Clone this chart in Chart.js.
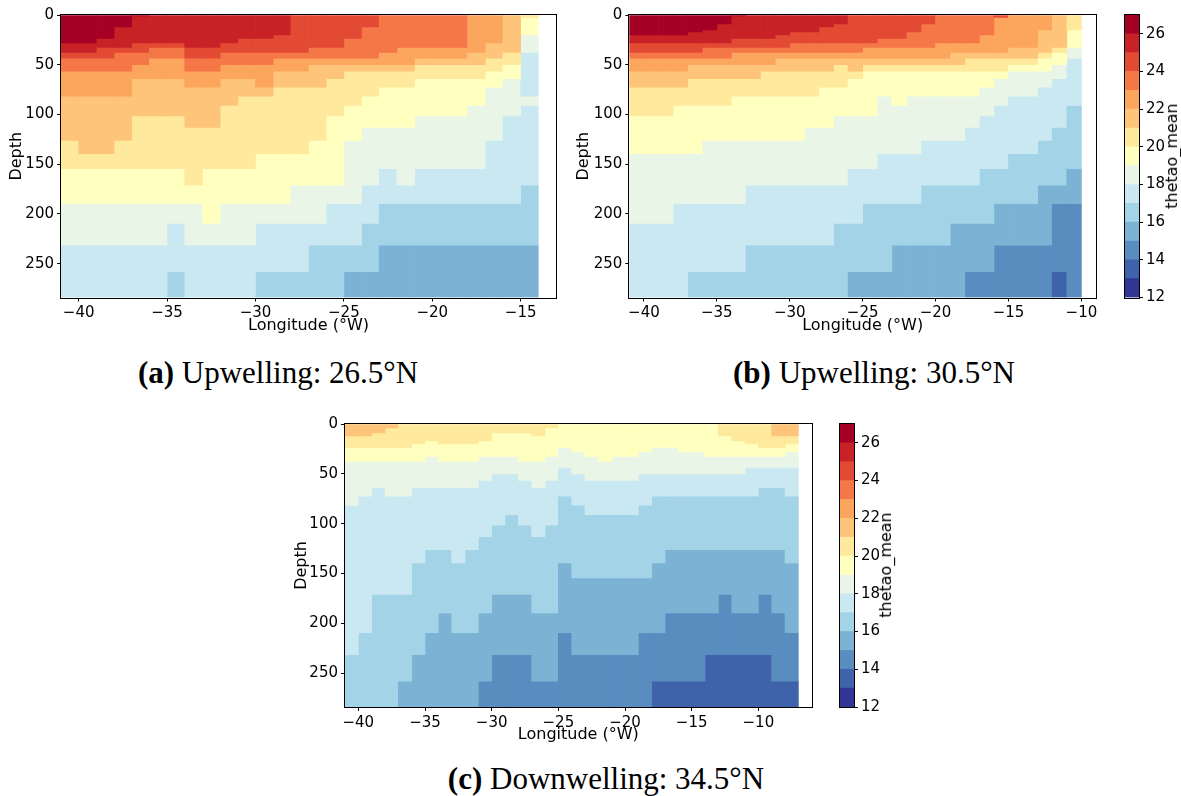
<!DOCTYPE html>
<html>
<head>
<meta charset="utf-8">
<script src="https://cdn.jsdelivr.net/npm/chart.js@4.4.0/dist/chart.umd.min.js"></script>
<style>
  body { margin: 0; background: #fff; width: 1181px; height: 796px; position: relative; overflow: hidden; }
  canvas { position: absolute; }
  .cap { position: absolute; font-family: 'Liberation Serif', serif; font-size: 31px; line-height: 31px; white-space: nowrap; transform: translateX(-50%); color: #000; }
  .cbt { position: absolute; font-family: 'DejaVu Sans', sans-serif; font-size: 16px; line-height: 16px; white-space: nowrap; transform: translate(-50%, -50%) rotate(-90deg); color: #000; }
</style>
</head>
<body>
<canvas id="ca" width="570" height="345" style="left:0;top:0"></canvas>
<canvas id="cb" width="540" height="345" style="left:570px;top:0"></canvas>
<canvas id="cbarB" width="61" height="312" style="left:1120px;top:0"></canvas>
<canvas id="cc" width="540" height="346" style="left:285px;top:409px"></canvas>
<canvas id="cbarC" width="55" height="313" style="left:835px;top:409px"></canvas>

<div class="cbt" style="left:1172px;top:156px">thetao_mean</div>
<div class="cbt" style="left:886px;top:565px">thetao_mean</div>

<div class="cap" style="left:278px;top:357px"><b>(a)</b> Upwelling: 26.5°N</div>
<div class="cap" style="left:874px;top:357px"><b>(b)</b> Upwelling: 30.5°N</div>
<div class="cap" style="left:606px;top:763px"><b>(c)</b> Downwelling: 34.5°N</div>

<script>
// temperature bands (degC), one colour per 1-degree band
const bandLevels = [12, 13, 14, 15, 16, 17, 18, 19, 20, 21, 22, 23, 24, 25, 26, 27];
const bandColors = ['#313695', '#3f63ab', '#598dc0', '#7cb3d4', '#a3d3e6', '#c9e8f2', '#e9f6e7',
                    '#ffffbf', '#fee99d', '#fec479', '#fca55d', '#f57647', '#e34a33', '#c82227', '#a50026'];
const cbarTicks = [12, 14, 16, 18, 20, 22, 24, 26];
const depthTicks = [0, 50, 100, 150, 200, 250];
const depthMax = 284;

// each column: list of [band, bottom depth in m], top of first run is 0
// (a) 26.5N, columns start at -41, 1 degree wide
const lonStartA = -41;
const lonRangeA = [-41, -13];
const lonTicksA = [-40, -35, -30, -25, -20, -15];
const profilesA = [
  [[26,28],[25,37.5],[24,43.5],[23,56.5],[22,81.5],[21,126],[20,154.5],[19,189.5],[18,231.5],[17,284]],
  [[26,28],[25,37.5],[24,43.5],[23,56.5],[22,81.5],[21,139.5],[20,154.5],[19,189.5],[18,231.5],[17,284]],
  [[26,23.5],[25,32.5],[24,43.5],[23,56.5],[22,81.5],[21,139.5],[20,154.5],[19,189.5],[18,231.5],[17,284]],
  [[26,12],[25,32.5],[24,37.5],[23,56.5],[22,81.5],[21,126],[20,154.5],[19,189.5],[18,231.5],[17,284]],
  [[26,1],[25,28],[24,37.5],[23,50],[22,64],[21,101.5],[20,154.5],[19,189.5],[18,231.5],[17,284]],
  [[25,28],[24,32.5],[23,43.5],[22,64],[21,101.5],[20,154.5],[19,189.5],[18,231.5],[17,284]],
  [[25,28],[24,32.5],[23,43.5],[22,64],[21,101.5],[20,154.5],[19,189.5],[18,209.5],[17,258],[16,284]],
  [[25,32.5],[24,43.5],[23,56.5],[22,72.5],[21,113],[20,171],[19,189.5],[18,231.5],[17,284]],
  [[25,32.5],[24,43.5],[23,56.5],[22,72.5],[21,113],[20,154.5],[19,209.5],[18,231.5],[17,284]],
  [[25,28],[24,37.5],[23,50],[22,64],[21,91],[20,154.5],[19,189.5],[18,231.5],[17,284]],
  [[25,23.5],[24,37.5],[23,50],[22,64],[21,81.5],[20,154.5],[19,189.5],[18,231.5],[17,284]],
  [[25,23.5],[24,37.5],[23,50],[22,72.5],[21,81.5],[20,139.5],[19,189.5],[18,209.5],[17,258],[16,284]],
  [[25,20],[24,37.5],[23,43.5],[22,56.5],[21,72.5],[20,139.5],[19,189.5],[18,209.5],[17,258],[16,284]],
  [[24,37.5],[23,43.5],[22,56.5],[21,72.5],[20,139.5],[19,171],[18,209.5],[17,258],[16,284]],
  [[24,32.5],[23,43.5],[22,50],[21,72.5],[20,126],[19,171],[18,209.5],[17,231.5],[16,284]],
  [[24,32.5],[23,43.5],[22,50],[21,64],[20,101.5],[19,171],[18,189.5],[17,231.5],[16,284]],
  [[24,23.5],[23,43.5],[22,50],[21,56.5],[20,91],[19,126],[18,189.5],[17,231.5],[16,258],[15,284]],
  [[24,12],[23,43.5],[22,50],[21,56.5],[20,81.5],[19,113],[18,171],[17,209.5],[16,258],[15,284]],
  [[23,37.5],[22,50],[21,56.5],[20,72.5],[19,113],[18,154.5],[17,189.5],[16,231.5],[15,284]],
  [[23,32.5],[22,50],[21,56.5],[20,72.5],[19,113],[18,171],[17,189.5],[16,231.5],[15,284]],
  [[23,32.5],[22,43.5],[21,50],[20,64],[19,101.5],[18,154.5],[17,189.5],[16,231.5],[15,284]],
  [[23,32.5],[22,43.5],[21,50],[20,64],[19,101.5],[18,154.5],[17,189.5],[16,231.5],[15,284]],
  [[23,32.5],[22,43.5],[21,50],[20,64],[19,101.5],[18,154.5],[17,189.5],[16,231.5],[15,284]],
  [[22,37.5],[21,50],[20,64],[19,91],[18,154.5],[17,189.5],[16,231.5],[15,284]],
  [[22,28],[21,43.5],[20,56.5],[19,72.5],[18,126],[17,189.5],[16,231.5],[15,284]],
  [[21,37.5],[20,50],[19,64],[18,101.5],[17,189.5],[16,231.5],[15,284]],
  [[20,2.5],[19,20],[18,37.5],[17,81.5],[18,91],[17,171],[16,231.5],[15,284]]
];

// (b) 30.5N
const lonStartB = -41;
const lonRangeB = [-41, -9];
const lonTicksB = [-40, -35, -30, -25, -20, -15, -10];
const profilesB = [
  [[26,20],[25,28],[24,37.5],[23,43.5],[22,56.5],[21,72.5],[20,101.5],[19,139.5],[18,209.5],[17,284]],
  [[26,20],[25,28],[24,37.5],[23,43.5],[22,56.5],[21,72.5],[20,101.5],[19,139.5],[18,209.5],[17,284]],
  [[26,20],[25,28],[24,37.5],[23,43.5],[22,56.5],[21,72.5],[20,101.5],[19,139.5],[18,209.5],[17,284]],
  [[26,20],[25,28],[24,37.5],[23,43.5],[22,56.5],[21,72.5],[20,91],[19,139.5],[18,189.5],[17,284]],
  [[26,17],[25,28],[24,37.5],[23,43.5],[22,50],[21,64],[20,91],[19,139.5],[18,189.5],[17,258],[16,284]],
  [[26,15],[25,28],[24,32.5],[23,43.5],[22,50],[21,64],[20,91],[19,126],[18,189.5],[17,258],[16,284]],
  [[26,9],[25,28],[24,32.5],[23,43.5],[22,50],[21,64],[20,91],[19,126],[18,189.5],[17,258],[16,284]],
  [[26,1],[25,23.5],[24,32.5],[23,37.5],[22,50],[21,64],[20,81.5],[19,126],[18,189.5],[17,258],[16,284]],
  [[25,23.5],[24,32.5],[23,37.5],[22,50],[21,64],[20,81.5],[19,126],[18,171],[17,231.5],[16,284]],
  [[25,23.5],[24,32.5],[23,37.5],[22,50],[21,56.5],[20,81.5],[19,126],[18,171],[17,231.5],[16,284]],
  [[25,20],[24,32.5],[23,37.5],[22,43.5],[21,56.5],[20,81.5],[19,126],[18,171],[17,231.5],[16,284]],
  [[25,17],[24,28],[23,37.5],[22,43.5],[21,56.5],[20,81.5],[19,126],[18,171],[17,231.5],[16,284]],
  [[25,17],[24,28],[23,37.5],[22,43.5],[21,56.5],[20,81.5],[19,113],[18,171],[17,231.5],[16,284]],
  [[25,12],[24,28],[23,37.5],[22,43.5],[21,56.5],[20,72.5],[19,113],[18,171],[17,231.5],[16,284]],
  [[25,9],[24,28],[23,37.5],[22,43.5],[21,50],[20,72.5],[19,101.5],[18,171],[17,209.5],[16,284]],
  [[24,28],[23,37.5],[22,43.5],[21,56.5],[20,64],[19,101.5],[18,154.5],[17,209.5],[16,258],[15,284]],
  [[24,28],[23,32.5],[22,43.5],[21,50],[20,56.5],[19,101.5],[18,154.5],[17,189.5],[16,258],[15,284]],
  [[24,23.5],[23,32.5],[22,43.5],[21,50],[20,56.5],[19,81.5],[18,139.5],[17,189.5],[16,258],[15,284]],
  [[24,23.5],[23,32.5],[22,43.5],[21,50],[20,56.5],[19,91],[18,139.5],[17,189.5],[16,231.5],[15,284]],
  [[24,17],[23,32.5],[22,43.5],[21,50],[20,56.5],[19,81.5],[18,139.5],[17,189.5],[16,231.5],[15,284]],
  [[24,9],[23,32.5],[22,43.5],[21,50],[20,56.5],[19,81.5],[18,126],[17,171],[16,231.5],[15,284]],
  [[23,28],[22,43.5],[21,50],[20,56.5],[19,81.5],[18,126],[17,171],[16,231.5],[15,284]],
  [[23,28],[22,37.5],[21,50],[20,56.5],[19,81.5],[18,126],[17,171],[16,209.5],[15,284]],
  [[23,28],[22,37.5],[21,43.5],[20,56.5],[19,81.5],[18,113],[17,171],[16,209.5],[15,258],[14,284]],
  [[23,20],[22,37.5],[21,43.5],[20,56.5],[19,72.5],[18,101.5],[17,154.5],[16,209.5],[15,258],[14,284]],
  [[24,2.5],[22,37.5],[21,43.5],[20,56.5],[19,64],[18,91],[17,154.5],[16,189.5],[15,231.5],[14,284]],
  [[22,32.5],[21,43.5],[20,50],[19,56.5],[18,81.5],[17,139.5],[16,189.5],[15,231.5],[14,284]],
  [[22,32.5],[21,43.5],[20,50],[19,56.5],[18,81.5],[17,139.5],[16,189.5],[15,231.5],[14,284]],
  [[22,15],[21,37.5],[20,43.5],[19,56.5],[18,72.5],[17,126],[16,171],[15,231.5],[14,284]],
  [[21,32.5],[20,37.5],[19,50],[18,64],[17,113],[16,171],[15,189.5],[14,258],[13,284]],
  [[20,15],[19,32.5],[18,43.5],[17,91],[16,154.5],[15,189.5],[14,284]]
];

// (c) 34.5N
const lonStartC = -41;
const lonRangeC = [-41, -6];
const lonTicksC = [-40, -35, -30, -25, -20, -15, -10];
const profilesC = [
  [[21,12],[20,23.5],[19,37.5],[18,81.5],[17,231.5],[16,284]],
  [[21,12],[20,23.5],[19,37.5],[18,72.5],[17,209.5],[16,284]],
  [[21,9],[20,23.5],[19,37.5],[18,64],[17,171],[16,284]],
  [[21,4],[20,23.5],[19,37.5],[18,72.5],[17,171],[16,284]],
  [[20,23.5],[19,37.5],[18,72.5],[17,171],[16,258],[15,284]],
  [[20,20],[19,37.5],[18,64],[17,139.5],[16,231.5],[15,284]],
  [[20,17],[19,32.5],[18,64],[17,126],[16,209.5],[15,284]],
  [[20,20],[19,37.5],[18,64],[17,126],[16,189.5],[15,284]],
  [[20,20],[19,37.5],[18,64],[17,139.5],[16,209.5],[15,284]],
  [[20,20],[19,37.5],[18,64],[17,126],[16,209.5],[15,284]],
  [[20,17],[19,32.5],[18,56.5],[17,113],[16,189.5],[15,258],[14,284]],
  [[20,9],[19,32.5],[18,50],[17,101.5],[16,171],[15,231.5],[14,284]],
  [[20,9],[19,32.5],[18,50],[17,91],[16,171],[15,231.5],[14,284]],
  [[20,9],[19,37.5],[18,56.5],[17,101.5],[16,171],[15,231.5],[14,284]],
  [[20,12],[19,37.5],[18,64],[17,113],[16,189.5],[15,258],[14,284]],
  [[20,4],[19,32.5],[18,56.5],[17,101.5],[16,189.5],[15,258],[14,284]],
  [[19,23.5],[18,43.5],[17,72.5],[16,139.5],[15,209.5],[14,284]],
  [[19,28],[18,50],[17,81.5],[16,154.5],[15,231.5],[14,284]],
  [[19,32.5],[18,56.5],[17,91],[16,154.5],[15,231.5],[14,284]],
  [[19,37.5],[18,56.5],[17,91],[16,154.5],[15,231.5],[14,284]],
  [[19,32.5],[18,56.5],[17,91],[16,154.5],[15,231.5],[14,284]],
  [[19,32.5],[18,56.5],[17,91],[16,154.5],[15,231.5],[14,284]],
  [[19,28],[18,50],[17,81.5],[16,154.5],[15,209.5],[14,284]],
  [[19,23.5],[18,50],[17,72.5],[16,139.5],[15,209.5],[14,258],[13,284]],
  [[19,23.5],[18,50],[17,72.5],[16,126],[15,189.5],[14,258],[13,284]],
  [[19,28],[18,50],[17,72.5],[16,126],[15,189.5],[14,258],[13,284]],
  [[19,28],[18,50],[17,72.5],[16,126],[15,189.5],[14,258],[13,284]],
  [[19,32.5],[18,50],[17,72.5],[16,126],[15,189.5],[14,231.5],[13,284]],
  [[20,12],[19,32.5],[18,50],[17,72.5],[16,126],[15,171],[14,231.5],[13,284]],
  [[20,17],[19,32.5],[18,50],[17,72.5],[16,126],[15,189.5],[14,231.5],[13,284]],
  [[20,20],[19,32.5],[18,43.5],[17,72.5],[16,126],[15,189.5],[14,231.5],[13,284]],
  [[20,23.5],[19,32.5],[18,43.5],[17,64],[16,126],[15,171],[14,231.5],[13,284]],
  [[21,12],[20,23.5],[19,32.5],[18,43.5],[17,64],[16,126],[15,189.5],[14,258],[13,284]],
  [[21,12],[20,20],[19,28],[18,43.5],[17,72.5],[16,139.5],[15,209.5],[14,258],[13,284]]
];

const TICK_FONT = { family: "'DejaVu Sans', sans-serif", size: 15 };
const TITLE_FONT = { family: "'DejaVu Sans', sans-serif", size: 16 };

function colorOf(band) {
  return bandColors[bandLevels.indexOf(band)];
}

function minusLabel(v) {
  return v < 0 ? '\u2212' + Math.abs(v) : String(v);
}

// one floating-bar dataset per run index: run k of every column
function buildSets(profiles, lonStart) {
  const n = Math.max(...profiles.map(p => p.length));
  const sets = [];
  for (let k = 0; k < n; k++) {
    const data = [];
    const colors = [];
    profiles.forEach((p, j) => {
      if (!p[k]) return;
      const top = k === 0 ? 0 : p[k - 1][1];
      data.push({ x: lonStart + j + 0.5, y: [top, p[k][1]] });
      colors.push(colorOf(p[k][0]));
    });
    sets.push({ data, backgroundColor: colors, borderWidth: 0 });
  }
  return sets;
}

const framePlugin = {
  id: 'frame',
  afterDraw(chart) {
    const { ctx, chartArea: a } = chart;
    ctx.save();
    ctx.strokeStyle = '#000';
    ctx.lineWidth = 1;
    ctx.strokeRect(Math.round(a.left) - 0.5, Math.round(a.top) - 0.5,
                   Math.round(a.right) - Math.round(a.left) + 1, Math.round(a.bottom) - Math.round(a.top) + 1);
    ctx.restore();
  }
};

function heatChart(id, profiles, lonStart, range, lonTicks, g) {
  return new Chart(document.getElementById(id), {
    type: 'bar',
    data: { datasets: buildSets(profiles, lonStart) },
    options: {
      responsive: false,
      animation: false,
      events: [],
      layout: { padding: g.pad },
      datasets: { bar: { grouped: false, barPercentage: 1, categoryPercentage: 1 } },
      plugins: { legend: { display: false }, tooltip: { enabled: false } },
      scales: {
        x: {
          type: 'linear', offset: false, min: range[0], max: range[1],
          afterBuildTicks: s => { s.ticks = lonTicks.map(v => ({ value: v })); },
          afterFit: s => { s.height = g.xh; },
          grid: { offset: false, drawOnChartArea: false, tickLength: 4, color: '#000' },
          border: { display: false },
          ticks: { font: TICK_FONT, color: '#000', padding: 3, maxRotation: 0, autoSkip: false, callback: minusLabel },
          title: { display: true, text: 'Longitude (°W)', font: TITLE_FONT, color: '#000', padding: { top: 0, bottom: g.tb } }
        },
        y: {
          type: 'linear', reverse: true, min: 0, max: depthMax,
          afterBuildTicks: s => { s.ticks = depthTicks.map(v => ({ value: v })); },
          afterFit: s => { s.width = g.yw; },
          grid: { drawOnChartArea: false, tickLength: 4, color: '#000' },
          border: { display: false },
          ticks: { font: TICK_FONT, color: '#000', padding: 3, autoSkip: false },
          title: { display: true, text: 'Depth', font: TITLE_FONT, color: '#000', padding: { top: g.tl, bottom: 0 } }
        }
      }
    },
    plugins: [framePlugin]
  });
}

function colorbar(id, g) {
  return new Chart(document.getElementById(id), {
    type: 'bar',
    data: {
      labels: [''],
      datasets: bandColors.map((c, i) => ({
        data: [[bandLevels[i], bandLevels[i + 1]]],
        backgroundColor: c, borderWidth: 0
      }))
    },
    options: {
      responsive: false,
      animation: false,
      events: [],
      layout: { padding: g.pad },
      datasets: { bar: { grouped: false, barPercentage: 1, categoryPercentage: 1 } },
      plugins: { legend: { display: false }, tooltip: { enabled: false } },
      scales: {
        x: { display: false },
        y: {
          position: 'right', min: bandLevels[0], max: bandLevels[bandLevels.length - 1],
          afterBuildTicks: s => { s.ticks = cbarTicks.map(v => ({ value: v })); },
          afterFit: s => { s.width = g.yw; },
          grid: { drawOnChartArea: false, tickLength: 4, color: '#000' },
          border: { display: false },
          ticks: { font: TICK_FONT, color: '#000', padding: 3, autoSkip: false }
        }
      }
    },
    plugins: [framePlugin]
  });
}

heatChart('ca', profilesA, lonStartA, lonRangeA, lonTicksA,
  { pad: { left: 0, top: 15, right: 14, bottom: 0 }, yw: 61, xh: 47.5, tb: 9.4, tl: 7.4 });
heatChart('cb', profilesB, lonStartB, lonRangeB, lonTicksB,
  { pad: { left: 0, top: 15, right: 14, bottom: 0 }, yw: 59.3, xh: 47.5, tb: 9.4, tl: 4.4 });
heatChart('cc', profilesC, lonStartC, lonRangeC, lonTicksC,
  { pad: { left: 0, top: 15, right: 13.3, bottom: 0 }, yw: 60, xh: 48, tb: 10.4, tl: 7.4 });
colorbar('cbarB', { pad: { left: 5, top: 15, right: 0, bottom: 14.5 }, yw: 42 });
colorbar('cbarC', { pad: { left: 5, top: 15, right: 0, bottom: 15 }, yw: 36 });
</script>
</body>
</html>
